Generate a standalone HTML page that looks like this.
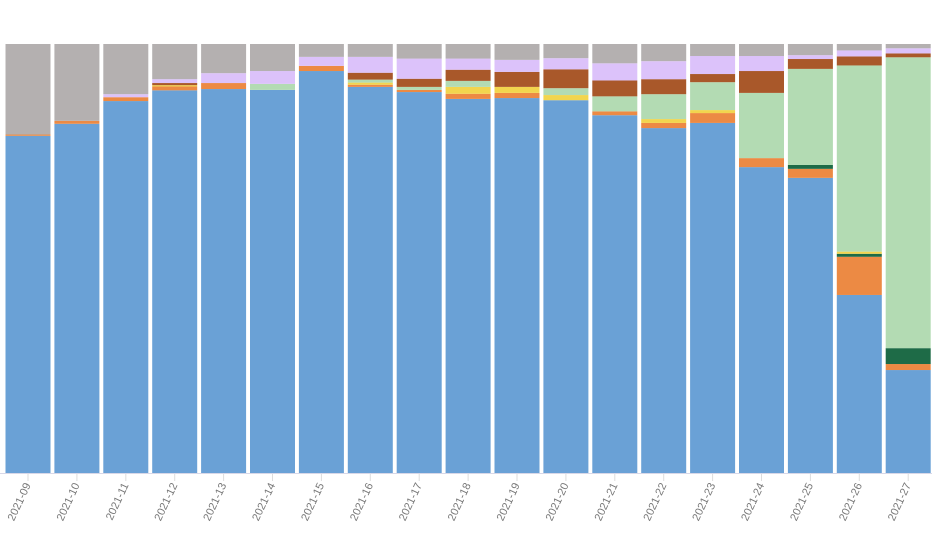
<!DOCTYPE html>
<html><head><meta charset="utf-8"><style>
html,body{margin:0;padding:0;background:#fff;}
svg{display:block;font-family:"Liberation Sans",sans-serif;}
</style></head><body>
<svg id="chart" width="940" height="558" viewBox="0 0 940 558"></svg>
<script>
const categories=["2021-09","2021-10","2021-11","2021-12","2021-13","2021-14","2021-15","2021-16","2021-17","2021-18","2021-19","2021-20","2021-21","2021-22","2021-23","2021-24","2021-25","2021-26","2021-27"];
const seriesNames=["blue","orange","dark-green","yellow","light-green","brown","lavender","gray"];
const blue=[78.6,81.4,86.7,89.2,89.5,89.3,93.7,90.0,88.8,87.2,87.4,86.9,83.4,80.4,81.6,71.3,68.8,41.5,24.0];
const orange=[0.3,0.7,0.9,0.9,1.4,0,1.2,0.5,0.5,1.2,1.2,0,0.9,1.2,2.3,2.1,2.1,8.9,1.4];
const darkGreen=[0,0,0,0,0,0,0,0,0,0,0,0,0,0,0,0,0.9,0.7,3.7];
const yellow=[0,0,0,0.3,0,0,0,0.5,0,1.6,1.4,1.2,0,0.9,0.7,0,0,0.5,0];
const lightGreen=[0,0,0,0,0,1.4,0,0.7,0.7,1.4,0,1.6,3.5,5.8,6.5,15.2,22.4,43.4,67.8];
const brown=[0,0,0,0.5,0,0,0,1.6,1.9,2.6,3.5,4.4,3.7,3.5,1.9,5.1,2.3,2.1,0.9];
const lavender=[0,0,0.7,0.9,2.3,3.0,2.1,3.7,4.7,2.6,2.8,2.6,4.0,4.2,4.2,3.5,0.9,1.4,1.2];
const colors=["#6aa1d6","#ec8a44","#1e6b47","#f2d54e","#b3dbb3","#a9582a","#dcc2fa","#b4b0b0"];
const NS="http://www.w3.org/2000/svg";
const svg=document.getElementById('chart');
const plotTop=44,plotBottom=473,x0=28,step=48.9,bw=45;
function xScale(i){return x0+step*i;}
function yScale(p){return plotBottom-(plotBottom-plotTop)*p/100;}
const series=[blue,orange,darkGreen,yellow,lightGreen,brown,lavender];
categories.forEach((c,i)=>{
  let acc=0;
  const vals=series.map(s=>s[i]);
  const sum=vals.reduce((a,b)=>a+b,0);
  vals.push(Math.max(0,100-sum));
  const g=document.createElementNS(NS,'g');
  
  
  vals.forEach((v,k)=>{
    if(v<=0)return;
    const r=document.createElementNS(NS,'rect');
    
    
    const yt=yScale(acc+v),yb=yScale(acc);
    r.setAttribute('x',xScale(i)-bw/2);
    r.setAttribute('y',yt);
    r.setAttribute('width',bw);
    r.setAttribute('height',yb-yt);
    r.setAttribute('fill',colors[k]);
    g.appendChild(r);
    acc+=v;
  });
  svg.appendChild(g);
  const t=document.createElementNS(NS,'line');
  
  
  t.setAttribute('x1',xScale(i));t.setAttribute('x2',xScale(i));
  t.setAttribute('y1',plotBottom+1);t.setAttribute('y2',plotBottom+8);
  t.setAttribute('stroke','#ddd');
  svg.appendChild(t);
  const lb=document.createElementNS(NS,'text');
  
  
  lb.setAttribute('x',xScale(i)+3);
  lb.setAttribute('y',plotBottom+12);
  lb.setAttribute('text-anchor','end');
  lb.setAttribute('font-size','11');
  lb.setAttribute('fill','#777');
  lb.setAttribute('transform','rotate(-65 '+(xScale(i)+3)+' '+(plotBottom+12)+')');
  lb.textContent=c;
  svg.appendChild(lb);
});
const base=document.createElementNS(NS,'line');


base.setAttribute('x1',0);base.setAttribute('x2',932);
base.setAttribute('y1',plotBottom+0.5);base.setAttribute('y2',plotBottom+0.5);
base.setAttribute('stroke','#d8d8e8');
svg.appendChild(base);
</script>
</body></html>
